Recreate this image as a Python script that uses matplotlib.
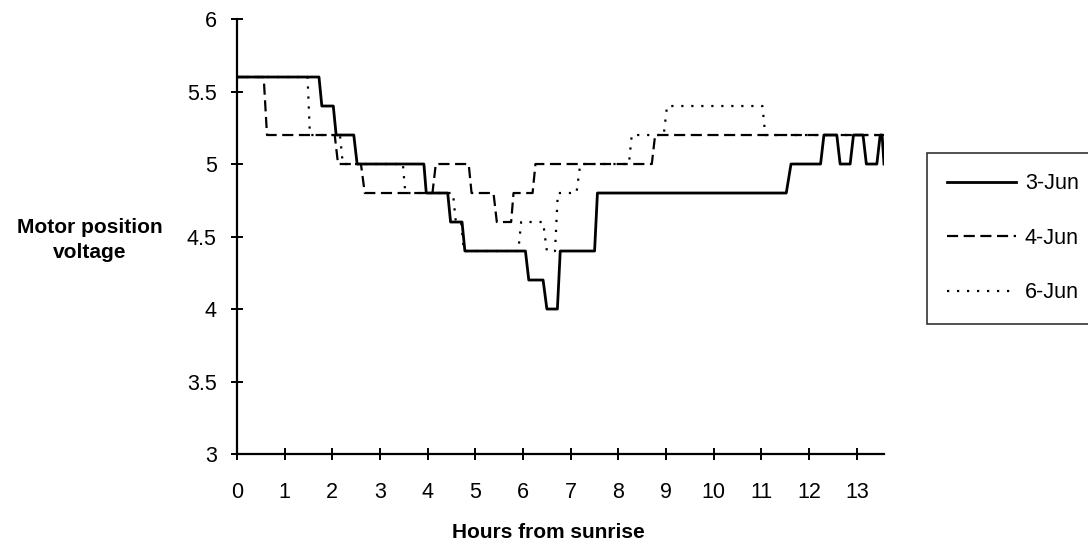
import matplotlib
matplotlib.use("Agg")
import matplotlib.pyplot as plt

plt.rcParams["font.family"] = ["Liberation Sans", "DejaVu Sans"]

# Horas desde el amanecer y voltaje de posicion del motor
t_3jun = [0, 1.72, 1.78, 2.02, 2.08, 2.45, 2.52, 3.92, 3.97, 4.42, 4.48, 4.72, 4.78,
          6.05, 6.12, 6.42, 6.5, 6.72, 6.78, 7.5, 7.56, 11.52, 11.62, 12.24, 12.31,
          12.58, 12.65, 12.86, 12.93, 13.13, 13.2, 13.42, 13.49, 13.53, 13.57]
v_3jun = [5.6, 5.6, 5.4, 5.4, 5.2, 5.2, 5.0, 5.0, 4.8, 4.8, 4.6, 4.6, 4.4,
          4.4, 4.2, 4.2, 4.0, 4.0, 4.4, 4.4, 4.8, 4.8, 5.0, 5.0, 5.2,
          5.2, 5.0, 5.0, 5.2, 5.2, 5.0, 5.0, 5.2, 5.2, 5.0]

t_4jun = [0, 0.56, 0.63, 2.05, 2.12, 2.6, 2.68, 4.1, 4.17, 4.86, 4.92, 5.38, 5.45,
          5.75, 5.8, 6.2, 6.26, 8.7, 8.77, 13.57]
v_4jun = [5.6, 5.6, 5.2, 5.2, 5.0, 5.0, 4.8, 4.8, 5.0, 5.0, 4.8, 4.8, 4.6,
          4.6, 4.8, 4.8, 5.0, 5.0, 5.2, 5.2]

t_6jun = [0, 1.48, 1.53, 2.16, 2.22, 3.48, 3.53, 4.53, 4.59, 4.7, 4.76, 5.9, 5.96,
          6.42, 6.5, 6.67, 6.73, 7.12, 7.2, 8.22, 8.28, 8.95, 9.02, 11.02, 11.08, 13.57]
v_6jun = [5.6, 5.6, 5.2, 5.2, 5.0, 5.0, 4.8, 4.8, 4.6, 4.6, 4.4, 4.4, 4.6,
          4.6, 4.4, 4.4, 4.8, 4.8, 5.0, 5.0, 5.2, 5.2, 5.4, 5.4, 5.2, 5.2]

x_ticks = list(range(0, 14))
y_ticks = [3, 3.5, 4, 4.5, 5, 5.5, 6]
y_labels = ["3", "3.5", "4", "4.5", "5", "5.5", "6"]

fig = plt.figure(figsize=(10.88, 5.48), dpi=100)
ax = fig.add_axes([0.2178, 0.1715, 0.5947, 0.7938])

ax.plot(t_3jun, v_3jun, color="black", lw=2.0, label="3-Jun")
ax.plot(t_4jun, v_4jun, color="black", lw=1.6, dashes=(5, 2.5), label="4-Jun")
ax.plot(t_6jun, v_6jun, color="black", lw=1.6, dashes=(1, 3.5), label="6-Jun")

ax.set_xlim(0, 13.57)
ax.set_ylim(3, 6)
ax.set_xticks(x_ticks)
ax.set_yticks(y_ticks)
ax.set_yticklabels(y_labels)
ax.spines["top"].set_visible(False)
ax.spines["right"].set_visible(False)
for s in ["left", "bottom"]:
    ax.spines[s].set_linewidth(1.6)
ax.tick_params(direction="inout", length=9, width=1.4, labelsize=15.5)
ax.tick_params(axis="x", pad=16)
ax.tick_params(axis="y", pad=10)

fig.text(90 / 1088, 1 - 240 / 548, "Motor position\nvoltage", ha="center", va="center",
         fontsize=15, fontweight="bold", linespacing=1.35)
fig.text(548 / 1088, 1 - 532 / 548, "Hours from sunrise", ha="center", va="center",
         fontsize=15, fontweight="bold")

leg = ax.legend(loc="upper left", bbox_to_anchor=(927 / 1088, 1 - 153 / 548),
                bbox_transform=fig.transFigure, frameon=True, fancybox=False,
                edgecolor="black", fontsize=15.5, handlelength=3.2, handletextpad=0.4,
                labelspacing=1.55, borderpad=0.95, borderaxespad=0)
leg.get_frame().set_linewidth(1.2)

fig.savefig("out.png", dpi=100)
